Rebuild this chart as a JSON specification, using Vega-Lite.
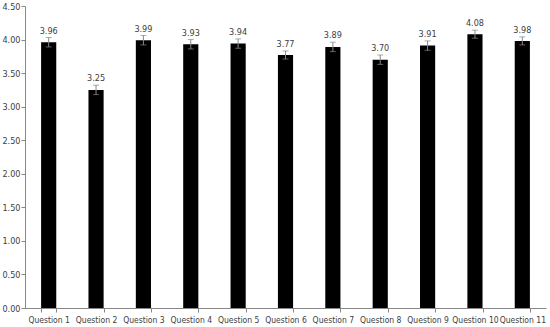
{
  "$schema": "https://vega.github.io/schema/vega-lite/v6.json",
  "autosize": "none",
  "width": 521,
  "height": 302,
  "padding": {"left": 25, "top": 6, "right": 4, "bottom": 19},
  "background": "white",
  "config": {"view": {"stroke": null}, "font": "Liberation Sans Narrow, DejaVu Sans Condensed, sans-serif",
    "axis": {"labelOverlap": false, "grid": false, "domainColor": "#888", "tickColor": "#888", "tickSize": 4, "labelFontSize": 9, "labelColor": "#404040", "title": null}},
  "data": {"values": [
    {"q": "Question 1", "v": 3.96, "e": 0.07},
    {"q": "Question 2", "v": 3.25, "e": 0.07},
    {"q": "Question 3", "v": 3.99, "e": 0.07},
    {"q": "Question 4", "v": 3.93, "e": 0.07},
    {"q": "Question 5", "v": 3.94, "e": 0.07},
    {"q": "Question 6", "v": 3.77, "e": 0.06},
    {"q": "Question 7", "v": 3.89, "e": 0.07},
    {"q": "Question 8", "v": 3.70, "e": 0.07},
    {"q": "Question 9", "v": 3.91, "e": 0.07},
    {"q": "Question 10", "v": 4.08, "e": 0.06},
    {"q": "Question 11", "v": 3.98, "e": 0.06}
  ]},
  "transform": [
    {"calculate": "datum.v - datum.e", "as": "lo"},
    {"calculate": "datum.v + datum.e", "as": "hi"}
  ],
  "encoding": {
    "x": {"field": "q", "type": "nominal", "sort": null,
      "scale": {"paddingInner": 0.68, "paddingOuter": 0.34},
      "axis": {"title": null, "labelAngle": 0, "tickBand": "extent", "labelPadding": 3, "labelFontSize": 8.5}}
  },
  "layer": [
    {"mark": {"type": "bar", "color": "black"},
     "encoding": {"y": {"field": "v", "type": "quantitative", "title": null,
       "scale": {"domain": [0, 4.5], "nice": false},
       "axis": {"values": [0, 0.5, 1, 1.5, 2, 2.5, 3, 3.5, 4, 4.5], "format": ".2f", "labelPadding": 1, "labelOverlap": false}}}},
    {"mark": {"type": "rule", "color": "#888", "strokeWidth": 1},
     "encoding": {"y": {"field": "lo", "type": "quantitative", "title": null, "axis": {"values": [0, 0.5, 1, 1.5, 2, 2.5, 3, 3.5, 4, 4.5], "format": ".2f", "labelPadding": 1, "labelOverlap": false}}, "y2": {"field": "hi"}}},
    {"mark": {"type": "tick", "color": "#888", "thickness": 1, "size": 6, "orient": "horizontal"},
     "encoding": {"y": {"field": "hi", "type": "quantitative", "title": null, "axis": {"values": [0, 0.5, 1, 1.5, 2, 2.5, 3, 3.5, 4, 4.5], "format": ".2f", "labelPadding": 1, "labelOverlap": false}}}},
    {"mark": {"type": "tick", "color": "#888", "thickness": 1, "size": 6, "orient": "horizontal"},
     "encoding": {"y": {"field": "lo", "type": "quantitative", "title": null, "axis": {"values": [0, 0.5, 1, 1.5, 2, 2.5, 3, 3.5, 4, 4.5], "format": ".2f", "labelPadding": 1, "labelOverlap": false}}}},
    {"mark": {"type": "text", "fontSize": 9, "color": "#404040", "baseline": "bottom", "dy": -2},
     "encoding": {"y": {"field": "hi", "type": "quantitative", "title": null, "axis": {"values": [0, 0.5, 1, 1.5, 2, 2.5, 3, 3.5, 4, 4.5], "format": ".2f", "labelPadding": 1, "labelOverlap": false}}, "text": {"field": "v", "type": "quantitative", "format": ".2f"}}}
  ]
}
